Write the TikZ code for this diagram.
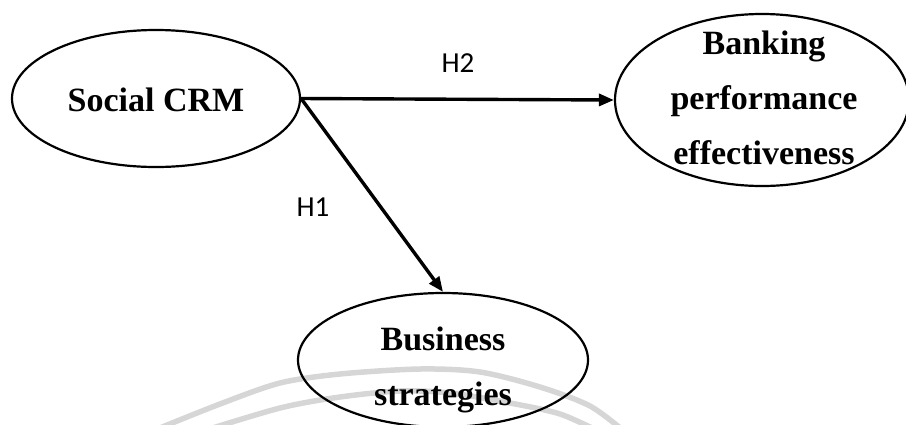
\documentclass[tikz,border=0pt]{standalone}
\usepackage{fontspec}
\setmainfont{Liberation Serif}
\newfontfamily\labelfont{Carlito}
\usetikzlibrary{shapes.geometric,arrows.meta}

\begin{document}
\begin{tikzpicture}[x=1pt,y=-1pt,
  construct/.style={draw, line width=2.2pt, ellipse, inner sep=0pt},
  ctext/.style={inner sep=0pt, align=center,
    font=\fontsize{34}{55}\selectfont\bfseries},
  link/.style={line width=3.4pt, -{Triangle[length=15pt,width=12pt]}},
  hyp/.style={font=\labelfont\fontsize{29}{29}\selectfont},
  band/.style={draw=black!16, line width=5.5pt, line cap=round}
]
\useasboundingbox (0,0) rectangle (906,424);

% faint grey arcs along the bottom edge
\begin{scope}
  \clip (0,0) rectangle (906,424);
  \draw[band] plot[smooth] coordinates
    {(150,432) (220,404) (280,383) (340,374) (420,369) (480,372) (540,387) (590,406) (625,432)};
  \draw[band] plot[smooth] coordinates
    {(200,432) (280,408) (340,397) (400,391) (450,393) (510,403) (560,414) (600,432)};
\end{scope}

% constructs
\node[construct, minimum width=288pt, minimum height=137pt] (scrm) at (156,98.5) {};
\node[construct, minimum width=294pt, minimum height=172pt] (bank) at (762,100) {};
\node[construct, minimum width=290pt, minimum height=134pt] (bus) at (443,360) {};

\node[ctext] (scrmtext) at ([yshift=-1pt]scrm.center) {Social CRM};
\node[ctext] (banktext) at ([xshift=2pt,yshift=2pt]bank.center)
  {Banking\\performance\\effectiveness};
\node[ctext] (bustext) at ([yshift=-10pt]bus.center) {Business\\strategies};

% hypothesised paths
\draw[link] (scrm.east) -- (bank.west);
\draw[link] (scrm.east) -- (bus.north);

% hypothesis labels
\node[hyp] (h2) at (458,63) {H2};
\node[hyp] (h1) at (313,207) {H1};
\end{tikzpicture}
\end{document}
